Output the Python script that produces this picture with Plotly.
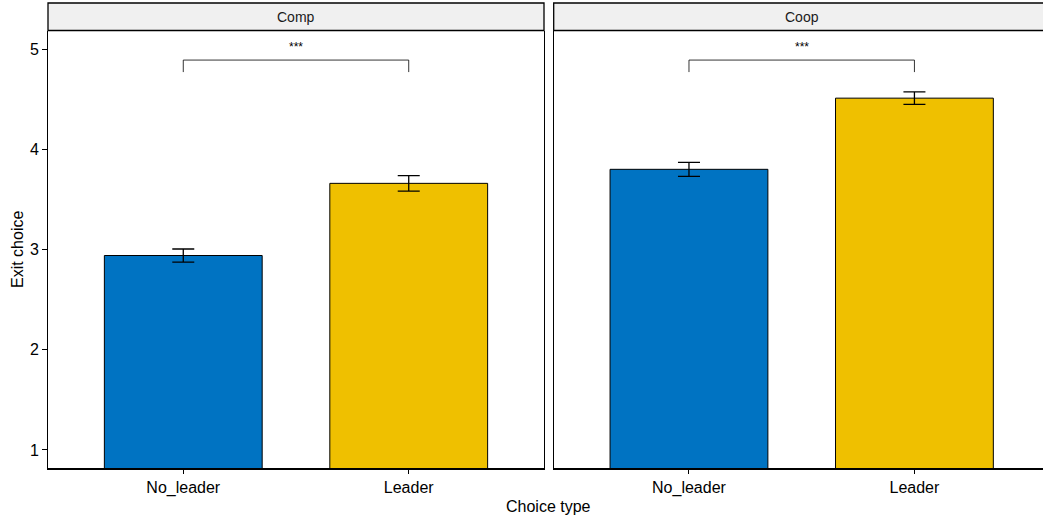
import plotly.graph_objects as go

# ---- data ----
panels = ["Comp", "Coop"]
choice_types = ["No_leader", "Leader"]
comp_means = [2.94, 3.66]
comp_se = [0.065, 0.077]
coop_means = [3.80, 4.51]
coop_se = [0.07, 0.062]
bar_colors = ["#0073C2", "#EFC000"]
sig_labels = ["***", "***"]
bracket_low = 4.77
bracket_high = 4.89
sig_y = 5.02
y_ticks = [1, 2, 3, 4, 5]

FONT = "Liberation Sans, Arial, sans-serif"
W, H = 1043, 519
ML, MR, MT, MB = 48, 0, 31, 51
PW = W - ML - MR
PH = H - MT - MB

def px_x(p):
    return (p - ML) / PW

def px_y(p):
    return (H - MB - p) / PH

fig = go.Figure()

series = [(comp_means, comp_se, "x", "y"), (coop_means, coop_se, "x2", "y2")]
for means, se, xa, ya in series:
    fig.add_trace(go.Bar(
        x=choice_types, y=means, xaxis=xa, yaxis=ya,
        width=0.7,
        marker=dict(color=bar_colors, line=dict(color="black", width=1)),
        error_y=dict(type="data", array=se, visible=True, color="black",
                     thickness=1.3, width=11),
        showlegend=False, hoverinfo="skip",
    ))

left_dom = [0, px_x(544)]
right_dom = [px_x(553.7), 1]
left_range = [-0.6, 1.6]
unit_px = (544 - 48) / 2.2
right_range = [-0.6, -0.6 + (W - 553.7) / unit_px]
y_range = [0.82, 5.18]

axis_common = dict(showgrid=False, zeroline=False, linecolor="black",
                   tickfont=dict(family=FONT, size=16, color="black"))

fig.update_layout(
    width=W, height=H,
    margin=dict(l=ML, r=MR, t=MT, b=MB, pad=0),
    plot_bgcolor="white", paper_bgcolor="white",
    font=dict(family=FONT, color="black"),
    xaxis=dict(domain=left_dom, range=left_range, type="category",
               showline=True, linewidth=2, ticks="outside", ticklen=4,
               tickcolor="black", anchor="y", **axis_common),
    yaxis=dict(domain=[0, 1], range=y_range, tickvals=y_ticks,
               showline=True, linewidth=1, mirror=True, ticks="outside",
               ticklen=5, tickcolor="black", anchor="x", **axis_common),
    xaxis2=dict(domain=right_dom, range=right_range, type="category",
                showline=True, linewidth=2, ticks="outside", ticklen=4,
                tickcolor="black", anchor="y2", **axis_common),
    yaxis2=dict(domain=[0, 1], range=y_range, tickvals=y_ticks,
                showline=True, linewidth=1, showticklabels=False, ticks="",
                anchor="x2", matches="y", **axis_common),
    bargap=0.3,
)

shapes = []
annotations = []
strip_bottom = px_y(30.5)
strip_top = px_y(3)
for i, (name, dom) in enumerate(zip(panels, [left_dom, right_dom])):
    x1 = dom[1] if i == 0 else 1.02
    shapes.append(dict(type="rect", xref="paper", yref="paper",
                       x0=dom[0], x1=x1, y0=strip_bottom, y1=strip_top,
                       fillcolor="#F0F0F0", line=dict(color="black", width=1.3),
                       layer="above"))
    annotations.append(dict(xref="paper", yref="paper",
                            x=(dom[0] + (dom[1] if i == 0 else px_x(1050))) / 2,
                            y=(strip_bottom + strip_top) / 2,
                            text=name, showarrow=False, xanchor="center",
                            yanchor="middle",
                            font=dict(family=FONT, size=14, color="#1a1a1a")))
    xr = "x" if i == 0 else "x2"
    yr = "y" if i == 0 else "y2"
    shapes.append(dict(type="path", xref=xr, yref=yr,
                       path=f"M 0,{bracket_low} L 0,{bracket_high} L 1,{bracket_high} L 1,{bracket_low}",
                       line=dict(color="black", width=0.8)))
    annotations.append(dict(xref=xr, yref=yr, x=0.5, y=sig_y, text=sig_labels[i],
                            showarrow=False, xanchor="center", yanchor="middle",
                            font=dict(family=FONT, size=12, color="black")))

annotations.append(dict(xref="paper", yref="paper", x=px_x(548), y=px_y(506),
                        text="Choice type", showarrow=False, xanchor="center",
                        yanchor="middle", font=dict(family=FONT, size=16, color="black")))
annotations.append(dict(xref="paper", yref="paper", x=px_x(17), y=px_y(250),
                        text="Exit choice", showarrow=False, textangle=-90,
                        xanchor="center", yanchor="middle",
                        font=dict(family=FONT, size=16, color="black")))

fig.update_layout(shapes=shapes, annotations=annotations)
fig.write_html("out.html",
               config={"displayModeBar": False, "staticPlot": True},
               post_script="document.body.style.margin='0';document.body.style.overflow='hidden';")
